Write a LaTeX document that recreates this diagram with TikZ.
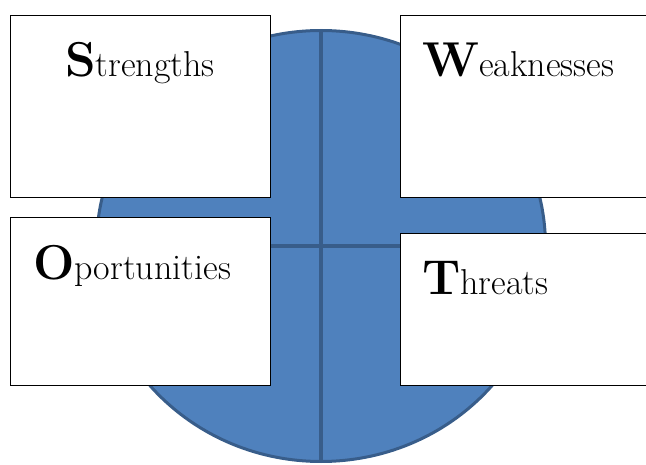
\documentclass[tikz,border=0pt]{standalone}
\usetikzlibrary{shapes.geometric}

\definecolor{swotfill}{RGB}{79,129,189}
\definecolor{swotline}{RGB}{56,93,138}
\newcommand{\swotword}[2]{{\fontsize{49}{49}\selectfont\bfseries #1}{\fontsize{36}{36}\selectfont #2}}

\begin{document}
\begin{tikzpicture}[x=1pt,y=-1pt]

\tikzstyle{swot_disc} = [ellipse, draw=swotline, fill=swotfill, line width=3pt, minimum width=449pt, minimum height=431pt, inner sep=0pt]
\tikzstyle{swot_cross} = [draw=swotline, line width=3.5pt]
\tikzstyle{swot_box} = [rectangle, draw=black, fill=white, line width=0.8pt, anchor=north west, inner sep=0pt, minimum width=260pt]
\tikzstyle{swot_word} = [anchor=base west, inner sep=0pt]

	\useasboundingbox (0,0) rectangle (646,465);
	\clip (0,0) rectangle (646,465);

%------------------------------------------------------------
	\node[swot_disc] (disc) at (321,246) {};
	\path[swot_cross] (disc.north) -- (disc.south);
	\path[swot_cross] (disc.west) -- (disc.east);

%------------------------------------------------------------
	\node[swot_box, minimum height=182pt] (s_box) at (10,15) {};
	\node[swot_box, minimum height=182pt] (w_box) at (400,15) {};
	\node[swot_box, minimum height=168pt] (o_box) at (10,217) {};
	\node[swot_box, minimum height=152pt] (t_box) at (400,233) {};

%------------------------------------------------------------
	\node[swot_word] (s_word) at (65,77) {\swotword{S}{trengths}};
	\node[swot_word] (w_word) at (422,77) {\swotword{W}{eaknesses}};
	\node[swot_word] (o_word) at (33,280) {\swotword{O}{portunities}};
	\node[swot_word] (t_word) at (422,295) {\swotword{T}{hreats}};

\end{tikzpicture}
\end{document}
